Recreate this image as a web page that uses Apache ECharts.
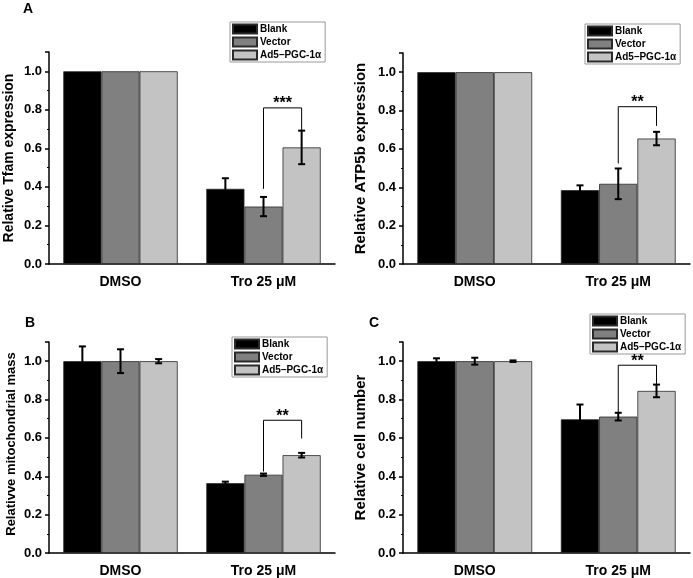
<!DOCTYPE html>
<html>
<head>
<meta charset="utf-8">
<script src="https://cdn.jsdelivr.net/npm/echarts@6/dist/echarts.min.js"></script>
<style>html,body{margin:0;padding:0;background:#fff;}#c{width:693px;height:578px;}</style>
</head>
<body>
<div id="c"></div>
<script>
// ---- data ----
const categories = ['DMSO', 'Tro 25 \u03bcM'];
const seriesNames = ['Blank', 'Vector', 'Ad5\u2013PGC-1\u03b1'];
const yTickLabels = ['0.0', '0.2', '0.4', '0.6', '0.8', '1.0'];
const panelLetters = ['A', '', 'B', 'C'];
const yTitles = ['Relative Tfam expression', 'Relative ATP5b expression', 'Relativve mitochondrial mass', 'Relative cell number'];

// Panel A (Tfam)
const tfamBlank = [1.0, 0.39];
const tfamVector = [1.0, 0.298];
const tfamAd5 = [1.0, 0.605];
const tfamBlankErr = [0, 0.055];
const tfamVectorErr = [0, 0.05];
const tfamAd5Err = [0, 0.087];
// Panel A right (ATP5b)
const atpBlank = [1.0, 0.385];
const atpVector = [1.0, 0.418];
const atpAd5 = [1.0, 0.654];
const atpBlankErr = [0, 0.025];
const atpVectorErr = [0, 0.08];
const atpAd5Err = [0, 0.035];
// Panel B (mitochondrial mass)
const mitoBlank = [1.0, 0.364];
const mitoVector = [1.0, 0.408];
const mitoAd5 = [1.0, 0.51];
const mitoBlankErr = [0.077, 0.008];
const mitoVectorErr = [0.062, 0.006];
const mitoAd5Err = [0.011, 0.012];
// Panel C (cell number)
const cellBlank = [1.0, 0.697];
const cellVector = [1.0, 0.711];
const cellAd5 = [1.0, 0.845];
const cellBlankErr = [0.015, 0.077];
const cellVectorErr = [0.018, 0.02];
const cellAd5Err = [0.004, 0.033];

// significance brackets: [category, fromSeries, toSeries, leftBottom, top, rightBottom, label]
const tfamSig = [1, 1, 2, 0.39, 0.81, 0.69, '***'];
const atpSig = [1, 1, 2, 0.524, 0.82, 0.72, '**'];
const mitoSig = [1, 1, 2, 0.425, 0.692, 0.597, '**'];
const cellSig = [1, 1, 2, 0.732, 0.979, 0.878, '**'];

// ---- layout / style ----
const panels = [
  {vals: [tfamBlank, tfamVector, tfamAd5], errs: [tfamBlankErr, tfamVectorErr, tfamAd5Err], sig: tfamSig,
   grid: {left: 49, top: 52, width: 286, height: 212}, legend: {left: 230, top: 22}, letter: {x: 23, y: 2}, nameGap: 33, nameSize: 14, namePad: 0},
  {vals: [atpBlank, atpVector, atpAd5], errs: [atpBlankErr, atpVectorErr, atpAd5Err], sig: atpSig,
   grid: {left: 403, top: 53, width: 287, height: 211}, legend: {left: 585, top: 24}, letter: null, nameGap: 35, nameSize: 15, namePad: 0},
  {vals: [mitoBlank, mitoVector, mitoAd5], errs: [mitoBlankErr, mitoVectorErr, mitoAd5Err], sig: mitoSig,
   grid: {left: 49, top: 342, width: 286, height: 211}, legend: {left: 232, top: 337}, letter: {x: 25, y: 316}, nameGap: 31, nameSize: 13, namePad: 7},
  {vals: [cellBlank, cellVector, cellAd5], errs: [cellBlankErr, cellVectorErr, cellAd5Err], sig: cellSig,
   grid: {left: 403, top: 342, width: 287, height: 211}, legend: {left: 590, top: 314}, letter: {x: 369, y: 316}, nameGap: 35, nameSize: 15, namePad: 0}
];
const colors = ['#000000', '#808080', '#c3c3c3'];
const FONT = "'Liberation Sans', Arial, sans-serif";
const CAT_GAP = 0.2;

const chart = echarts.init(document.getElementById('c'), null, {renderer: 'canvas'});

function barOffset(api, s) {
  const band = api.size([1, 0])[0];
  const bw = band * (1 - CAT_GAP) / 3;
  return (s - 1) * bw;
}

const grids = [], xAxes = [], yAxes = [], series = [], legends = [], graphics = [];
panels.forEach((p, pi) => {
  grids.push(Object.assign({containLabel: false}, p.grid));
  xAxes.push({
    type: 'category', gridIndex: pi, data: categories,
    axisLine: {lineStyle: {color: '#000', width: 1.5}},
    axisTick: {alignWithLabel: true, length: 4, lineStyle: {color: '#000', width: 1.5}},
    axisLabel: {color: '#000', fontFamily: FONT, fontWeight: 'bold', fontSize: 14, margin: 11},
    splitLine: {show: false}
  });
  yAxes.push({
    type: 'value', gridIndex: pi, min: 0, max: 1.1, interval: 0.2,
    name: yTitles[pi], nameLocation: 'middle', nameGap: p.nameGap,
    nameTextStyle: {color: '#000', fontFamily: FONT, fontWeight: 'bold', fontSize: p.nameSize, padding: [0, 0, 0, p.namePad]},
    axisLine: {show: true, lineStyle: {color: '#000', width: 1.5}},
    axisTick: {show: true, length: 4, lineStyle: {color: '#000', width: 1.5}},
    minorTick: {show: true, splitNumber: 2, length: 2, lineStyle: {color: '#000', width: 1}},
    axisLabel: {color: '#000', fontFamily: FONT, fontWeight: 'bold', fontSize: 13, margin: 7,
      showMaxLabel: false,
      formatter: v => { const i = Math.round(v / 0.2); return (Math.abs(v - i * 0.2) < 1e-6 && yTickLabels[i]) ? yTickLabels[i] : ''; }},
    splitLine: {show: false}
  });
  p.vals.forEach((vals, si) => {
    series.push({
      type: 'bar', name: seriesNames[si], xAxisIndex: pi, yAxisIndex: pi,
      data: vals, barGap: '0%', barCategoryGap: (CAT_GAP * 100) + '%',
      itemStyle: {color: colors[si], borderColor: '#2a2a2a', borderWidth: 0.8},
      emphasis: {disabled: true}, animation: false
    });
  });
  // error bars
  const errData = [];
  p.vals.forEach((vals, si) => vals.forEach((v, ci) => { if (p.errs[si][ci] > 0) errData.push([ci, si, v, p.errs[si][ci]]); }));
  series.push({
    type: 'custom', xAxisIndex: pi, yAxisIndex: pi, data: errData, z: 5, animation: false, silent: true,
    renderItem: (params, api) => {
      const ci = api.value(0), si = api.value(1), v = api.value(2), e = api.value(3);
      const x = api.coord([ci, v])[0] + barOffset(api, si);
      const yt = api.coord([ci, v + e])[1], yb = api.coord([ci, v - e])[1];
      const cap = 3.5;
      const st = {stroke: '#000', lineWidth: 2};
      return {type: 'group', children: [
        {type: 'line', shape: {x1: x, y1: yt, x2: x, y2: yb}, style: st},
        {type: 'line', shape: {x1: x - cap, y1: yt, x2: x + cap, y2: yt}, style: st},
        {type: 'line', shape: {x1: x - cap, y1: yb, x2: x + cap, y2: yb}, style: st}
      ]};
    }
  });
  // significance bracket
  series.push({
    type: 'custom', xAxisIndex: pi, yAxisIndex: pi, data: [p.sig.slice(0, 6)], z: 6, animation: false, silent: true,
    renderItem: (params, api) => {
      const ci = api.value(0), s1 = api.value(1), s2 = api.value(2);
      const lb = api.value(3), tp = api.value(4), rb = api.value(5);
      const base = api.coord([ci, tp]);
      const x1 = base[0] + barOffset(api, s1), x2 = base[0] + barOffset(api, s2);
      const yt = base[1], yl = api.coord([ci, lb])[1], yr = api.coord([ci, rb])[1];
      return {type: 'group', children: [
        {type: 'polyline', shape: {points: [[x1, yl], [x1, yt], [x2, yt], [x2, yr]]}, style: {stroke: '#000', lineWidth: 1, fill: null}},
        {type: 'text', x: (x1 + x2) / 2, y: yt - 4, style: {text: p.sig[6], fill: '#000', font: 'bold 16px ' + FONT, align: 'center', verticalAlign: 'middle'}}
      ]};
    }
  });
  legends.push({
    left: p.legend.left, top: p.legend.top, orient: 'vertical', data: seriesNames,
    itemWidth: 24, itemHeight: 9, itemGap: 1, padding: [1, 4, 1, 2], selectedMode: false,
    borderColor: '#999', borderWidth: 1, backgroundColor: '#fff',
    textStyle: {color: '#000', fontFamily: FONT, fontWeight: 'bold', fontSize: 10, lineHeight: 12, padding: [0, 0, 0, -2]},
    icon: 'rect'
  });
  if (p.letter) {
    graphics.push({type: 'text', left: p.letter.x, top: p.letter.y, style: {text: panelLetters[pi], fill: '#000', font: 'bold 14px ' + FONT}});
  }
});

chart.setOption({
  animation: false,
  backgroundColor: '#fff',
  grid: grids, xAxis: xAxes, yAxis: yAxes, series: series, legend: legends, graphic: graphics
});
</script>
</body>
</html>
